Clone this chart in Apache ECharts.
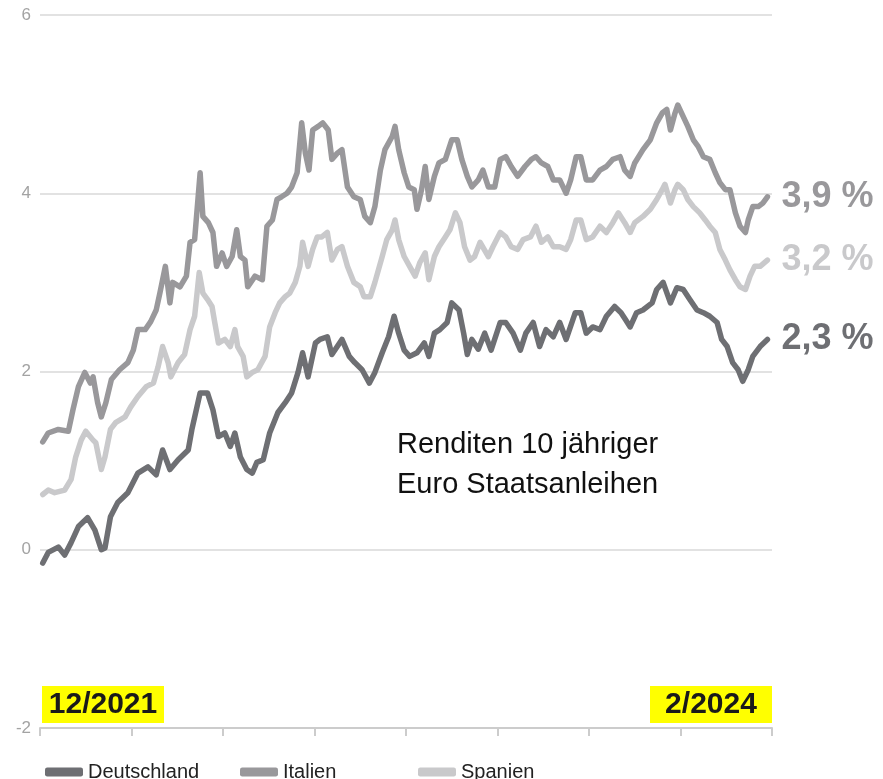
<!DOCTYPE html>
<html>
<head>
<meta charset="utf-8">
<script src="https://cdn.jsdelivr.net/npm/echarts@6/dist/echarts.min.js"></script>
<style>
  html, body { margin: 0; padding: 0; background: #fff; }
  #chart { width: 883px; height: 779px; }
</style>
</head>
<body>
<div id="chart"></div>
<script>
// x = Tage seit 1.12.2021, y = Rendite in %
const names = ['Deutschland', 'Italien', 'Spanien']
const colors = ['#6e6f73', '#99989b', '#c9c9cb']
const endLabels = ['2,3 %', '3,9 %', '3,2 %']
const yTicks = { min: -2, max: 6, step: 2 }
const dateLabels = ['12/2021', '2/2024']

const deutschland = [
  [3,-0.15],[9,-0.03],[20,0.03],[27,-0.06],[34,0.08],[42,0.26],[52,0.36],[60,0.22],[67,0.0],[71,0.02],
  [77,0.37],[85,0.53],[96,0.64],[107,0.86],[118,0.93],[127,0.84],[134,1.12],[142,0.90],[151,1.01],[162,1.12],
  [166,1.35],[175,1.76],[183,1.76],[189,1.57],[195,1.27],[202,1.31],[208,1.16],[213,1.31],[219,1.04],[226,0.9],
  [232,0.86],[237,0.98],[244,1.01],[251,1.31],[260,1.54],[268,1.65],[275,1.76],[282,1.99],[287,2.21],[293,1.94],
  [301,2.32],[306,2.36],[314,2.39],[319,2.19],[330,2.36],[338,2.17],[344,2.10],[352,2.02],[360,1.87],[366,1.99],
  [374,2.21],[381,2.39],[387,2.62],[392,2.43],[398,2.24],[404,2.17],[412,2.21],[420,2.32],[425,2.17],[431,2.43],
  [437,2.47],[445,2.55],[450,2.77],[458,2.69],[463,2.43],[467,2.19],[472,2.36],[479,2.25],[486,2.43],[493,2.24],
  [503,2.55],[509,2.55],[517,2.43],[525,2.24],[531,2.43],[539,2.55],[546,2.28],[553,2.47],[561,2.39],[568,2.55],
  [575,2.36],[585,2.66],[591,2.66],[597,2.43],[604,2.50],[612,2.47],[619,2.62],[628,2.73],[635,2.66],[640,2.58],
  [645,2.50],[652,2.66],[659,2.69],[669,2.77],[674,2.92],[681,3.00],[689,2.77],[696,2.94],[703,2.92],[710,2.81],
  [718,2.69],[725,2.66],[732,2.62],[740,2.55],[745,2.36],[751,2.28],[757,2.10],[763,2.02],[768,1.89],[774,2.02],
  [779,2.17],[787,2.28],[795,2.36]
]

const italien = [
  [3,1.21],[9,1.31],[20,1.35],[31,1.33],[36,1.57],[42,1.83],[49,1.99],[55,1.87],[58,1.94],[63,1.65],
  [67,1.49],[72,1.65],[78,1.91],[87,2.02],[96,2.10],[102,2.24],[107,2.47],[115,2.47],[121,2.56],[127,2.69],
  [131,2.88],[137,3.18],[142,2.77],[145,3.00],[153,2.95],[160,3.07],[164,3.45],[169,3.48],[175,4.23],[178,3.74],
  [184,3.67],[189,3.56],[193,3.18],[199,3.33],[204,3.18],[210,3.29],[215,3.59],[219,3.29],[224,3.25],[227,2.95],
  [235,3.07],[243,3.03],[248,3.63],[254,3.70],[259,3.93],[264,3.96],[270,4.0],[275,4.07],[281,4.23],[286,4.79],
  [290,4.45],[294,4.26],[298,4.71],[304,4.75],[309,4.79],[315,4.71],[319,4.38],[325,4.45],[330,4.49],[336,4.07],
  [343,3.96],[350,3.93],[355,3.74],[361,3.67],[366,3.85],[372,4.26],[377,4.49],[385,4.64],[388,4.75],[392,4.49],
  [398,4.23],[403,4.07],[409,4.04],[412,3.82],[417,4.04],[421,4.30],[425,3.93],[431,4.19],[436,4.34],[443,4.38],
  [450,4.60],[456,4.60],[461,4.38],[467,4.19],[472,4.07],[479,4.15],[484,4.26],[490,4.07],[497,4.07],[503,4.38],
  [509,4.41],[515,4.30],[522,4.19],[530,4.30],[537,4.38],[542,4.41],[548,4.34],[555,4.30],[561,4.15],[568,4.15],
  [575,4.0],[580,4.15],[586,4.41],[591,4.41],[597,4.15],[604,4.15],[612,4.26],[619,4.30],[626,4.38],[634,4.41],
  [639,4.26],[645,4.19],[650,4.34],[659,4.49],[667,4.60],[674,4.79],[680,4.90],[685,4.94],[689,4.71],[694,4.90],
  [697,4.99],[703,4.86],[708,4.75],[714,4.60],[719,4.53],[725,4.41],[732,4.38],[738,4.23],[743,4.12],[749,4.04],
  [754,4.04],[760,3.78],[765,3.63],[771,3.56],[774,3.70],[779,3.85],[785,3.85],[790,3.89],[795,3.96]
]

const spanien = [
  [3,0.62],[9,0.67],[16,0.64],[27,0.67],[34,0.79],[39,1.04],[45,1.23],[50,1.33],[58,1.23],[61,1.20],
  [67,0.90],[71,1.04],[77,1.35],[83,1.43],[93,1.49],[99,1.60],[107,1.72],[116,1.83],[124,1.87],[129,2.05],
  [134,2.28],[140,2.10],[143,1.94],[151,2.10],[158,2.19],[164,2.47],[169,2.62],[174,3.11],[178,2.88],[183,2.81],
  [188,2.73],[191,2.55],[195,2.32],[202,2.36],[208,2.28],[213,2.47],[216,2.28],[222,2.17],[226,1.94],[232,1.99],
  [238,2.02],[246,2.17],[251,2.50],[257,2.66],[262,2.77],[268,2.84],[273,2.88],[279,3.00],[284,3.18],[287,3.45],
  [293,3.18],[298,3.37],[303,3.51],[308,3.51],[314,3.56],[319,3.25],[325,3.37],[330,3.40],[336,3.18],[343,3.00],
  [350,2.95],[354,2.84],[361,2.84],[366,3.00],[374,3.29],[379,3.48],[385,3.59],[388,3.70],[392,3.48],[398,3.29],
  [404,3.18],[410,3.07],[415,3.22],[421,3.33],[425,3.03],[431,3.29],[436,3.40],[443,3.51],[448,3.59],[454,3.78],
  [459,3.67],[464,3.40],[470,3.25],[475,3.29],[481,3.45],[490,3.29],[495,3.40],[503,3.56],[509,3.51],[515,3.40],
  [522,3.37],[528,3.48],[536,3.51],[542,3.63],[548,3.45],[555,3.51],[561,3.40],[568,3.40],[575,3.37],[580,3.48],
  [586,3.70],[591,3.70],[597,3.48],[604,3.51],[612,3.63],[619,3.56],[626,3.67],[632,3.78],[639,3.67],[645,3.56],
  [650,3.67],[659,3.74],[667,3.82],[674,3.93],[680,4.04],[683,4.10],[689,3.89],[694,4.04],[697,4.10],[703,4.04],
  [708,3.93],[714,3.85],[721,3.78],[727,3.70],[732,3.63],[738,3.56],[743,3.37],[749,3.25],[754,3.14],[760,3.03],
  [765,2.95],[771,2.92],[776,3.07],[781,3.18],[787,3.18],[795,3.25]
]

const seriesData = [deutschland, italien, spanien]
const font = '"Liberation Sans", Arial, sans-serif'

const chart = echarts.init(document.getElementById('chart'))

const legendLeft = [40, 235, 413]

chart.setOption({
  animation: false,
  textStyle: { fontFamily: font },
  grid: { left: 40, right: 111, top: 15, bottom: 51 },
  xAxis: {
    type: 'value',
    min: 0,
    max: 800,
    interval: 100,
    axisLine: { show: true, onZero: false, lineStyle: { color: '#cccccc', width: 2 } },
    axisTick: { show: true, length: 8, lineStyle: { color: '#cccccc', width: 2 } },
    axisLabel: { show: false },
    splitLine: { show: false }
  },
  yAxis: {
    type: 'value',
    min: yTicks.min,
    max: yTicks.max,
    interval: yTicks.step,
    axisLine: { show: false },
    axisTick: { show: false },
    axisLabel: { color: '#a3a3a3', fontSize: 17, margin: 9, fontFamily: font },
    splitLine: { lineStyle: { color: '#d9d9d9', width: 1.5 } }
  },
  legend: names.map((n, i) => ({
    data: [n],
    left: legendLeft[i],
    top: 757,
    icon: 'roundRect',
    itemWidth: 38,
    itemHeight: 9,
    itemGap: 10,
    textStyle: { fontSize: 20, color: '#222', fontFamily: font },
    selectedMode: false
  })),
  series: names.map((n, i) => ({
    name: n,
    type: 'line',
    data: seriesData[i],
    showSymbol: false,
    symbol: 'none',
    color: colors[i],
    lineStyle: { width: 5.5, color: colors[i], join: 'round', cap: 'round' },
    endLabel: {
      show: true,
      formatter: () => endLabels[i],
      color: colors[i],
      fontSize: 36,
      fontWeight: 'bold',
      fontFamily: font,
      distance: 14
    }
  })),
  graphic: [
    {
      type: 'text',
      left: 397,
      top: 425,
      style: {
        text: 'Renditen 10 jähriger\nEuro Staatsanleihen',
        fontSize: 29,
        lineHeight: 40,
        fill: '#111',
        fontFamily: font
      }
    },
    {
      type: 'group',
      left: 42,
      top: 686,
      children: [
        { type: 'rect', shape: { x: 0, y: 0, width: 122, height: 37 }, style: { fill: '#ffff00' } },
        { type: 'text', x: 61, y: 19, style: { text: dateLabels[0], fontSize: 30, fontWeight: 'bold', fill: '#1a1a1a', align: 'center', verticalAlign: 'middle', fontFamily: font } }
      ]
    },
    {
      type: 'group',
      left: 650,
      top: 686,
      children: [
        { type: 'rect', shape: { x: 0, y: 0, width: 122, height: 37 }, style: { fill: '#ffff00' } },
        { type: 'text', x: 61, y: 19, style: { text: dateLabels[1], fontSize: 30, fontWeight: 'bold', fill: '#1a1a1a', align: 'center', verticalAlign: 'middle', fontFamily: font } }
      ]
    }
  ]
})
</script>
</body>
</html>
